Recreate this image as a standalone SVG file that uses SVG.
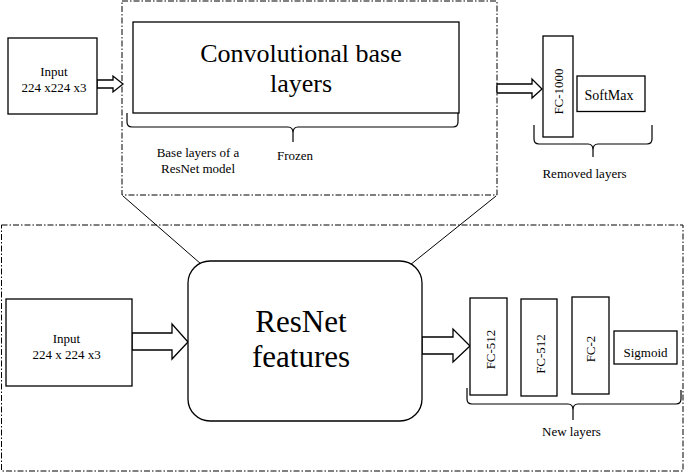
<svg xmlns="http://www.w3.org/2000/svg" width="685" height="473" viewBox="0 0 685 473">
<style>
  .box { fill: #fff; stroke: #000; stroke-width: 1.3; }
  .frame { fill: none; stroke: #000; stroke-width: 1; stroke-dasharray: 6 2 1.5 2; }
  .line { fill: none; stroke: #000; stroke-width: 1; }
  .brace { fill: none; stroke: #000; stroke-width: 1.2; }
  .arrow { fill: #fff; stroke: #000; stroke-width: 1.3; stroke-linejoin: miter; }
  text { fill: #000; text-anchor: middle; }
  .s { font-size: 13px; }
  .big { font-size: 26px; }
  .huge { font-size: 31px; }
</style>
<rect width="685" height="473" fill="#fff"/>

<g id="frames">
  <rect class="frame" x="122" y="1" width="375" height="194"/>
  <rect class="frame" x="1.5" y="225" width="681.5" height="246"/>
</g>

<g id="connectors">
  <line class="line" x1="123" y1="196" x2="201" y2="264"/>
  <line class="line" x1="496" y1="196" x2="410" y2="265"/>
  <path class="arrow" d="M97,80 H113 V76 L123,84 L113,92 V88 H97 Z"/>
  <path class="arrow" d="M497,84 H532 V79 L542,89 L532,98 V93 H497 Z"/>
  <path class="arrow" d="M132,333 H172 V324 L188,342 L172,359 V350 H132 Z"/>
  <path class="arrow" d="M422,337 H453 V329 L470,346 L453,362 V354 H422 Z"/>
</g>

<g font-family="Liberation Serif, DejaVu Serif, serif">
<g id="input-top">
  <rect class="box" x="8" y="38" width="89" height="76"/>
  <text class="s" x="54" y="76">Input</text>
  <text class="s" x="54" y="92">224 x224 x3</text>
</g>

<g id="conv-base">
  <rect class="box" x="133" y="22" width="326" height="91"/>
  <text class="big" x="301" y="62">Convolutional base</text>
  <text class="big" x="301" y="92">layers</text>
  <path class="brace" d="M127,113 V122 Q127,127 132,127 H288 Q293,127 293,133 V142 M293,133 Q293,127 298,127 H453 Q458,127 458,122 V113"/>
  <text class="s" x="198" y="157">Base layers of a</text>
  <text class="s" x="198" y="173">ResNet model</text>
  <text class="s" x="295" y="160">Frozen</text>
</g>

<g id="fc-1000">
  <rect class="box" x="543" y="36" width="30" height="101"/>
  <text class="s" transform="translate(558,91.5) rotate(-90)" dy="4.5">FC-1000</text>
</g>

<g id="softmax">
  <rect class="box" x="577" y="76" width="68" height="35.5"/>
  <text class="s" x="609" y="100" style="font-size:14px">SoftMax</text>
</g>

<g id="removed-layers">
  <path class="brace" d="M534,125 V139 Q534,144 539,144 H588 Q593,144 593,150 V157 M593,150 Q593,144 598,144 H647 Q652,144 652,139 V125"/>
  <text class="s" x="584.5" y="178">Removed layers</text>
</g>

<g id="input-bottom">
  <rect class="box" x="6" y="299" width="126" height="87"/>
  <text class="s" x="66.5" y="343">Input</text>
  <text class="s" x="66.5" y="359">224 x 224 x3</text>
</g>

<g id="resnet-features">
  <rect class="box" x="188" y="261" width="234" height="160" rx="22" ry="22"/>
  <text class="huge" x="301" y="332">ResNet</text>
  <text class="huge" x="301" y="367">features</text>
</g>

<g id="fc-512-a">
  <rect class="box" x="470" y="298" width="37" height="97"/>
  <text class="s" transform="translate(490,349.5) rotate(-90)" dy="4.5">FC-512</text>
</g>

<g id="fc-512-b">
  <rect class="box" x="521" y="299" width="36" height="97"/>
  <text class="s" transform="translate(540.5,354) rotate(-90)" dy="4.5">FC-512</text>
</g>

<g id="fc-2">
  <rect class="box" x="572" y="297" width="37" height="97"/>
  <text class="s" transform="translate(590,349) rotate(-90)" dy="4.5">FC-2</text>
</g>

<g id="sigmoid">
  <rect class="box" x="614" y="331" width="63" height="33"/>
  <text class="s" x="645.5" y="357">Sigmoid</text>
</g>

<g id="new-layers">
  <path class="brace" d="M467,388 V399 Q467,404 472,404 H568 Q573,404 573,410 V420 M573,410 Q573,404 578,404 H676 Q681,404 681,399 V390"/>
  <text class="s" x="571.5" y="436">New layers</text>
</g>
</g>
</svg>
